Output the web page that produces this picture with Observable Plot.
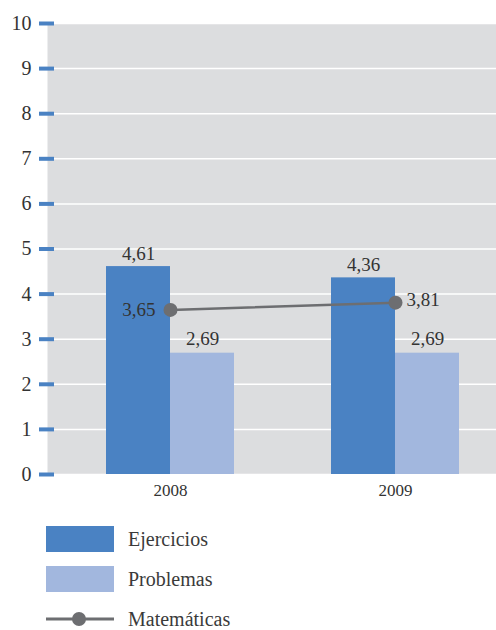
<!DOCTYPE html>
<html><head><meta charset="utf-8">
<script src="https://cdn.jsdelivr.net/npm/d3@7"></script>
<script src="https://cdn.jsdelivr.net/npm/@observablehq/plot@0.6"></script>
<style>
body{margin:0;background:#fff;font-family:"Liberation Serif",serif;overflow:hidden}
#chart svg, #chart svg text{font-family:"Liberation Serif",serif !important}
#legend{margin-left:46px;margin-top:16px}
.item{display:flex;align-items:center;height:26px;margin-bottom:14px;font-size:20px;color:#3a3a3a}
.item span{line-height:16px}
.sw{width:68px;height:26px;margin-right:14px;flex:none}
.ln{width:68px;height:26px;margin-right:14px;flex:none}
</style></head><body><div id="chart"></div><div id="legend"></div>
<script>
const years = ["2008", "2009"];
const ejercicios = [4.61, 4.36];
const problemas = [2.69, 2.69];
const matematicas = [3.65, 3.81];
const yTicks = [0, 1, 2, 3, 4, 5, 6, 7, 8, 9, 10];
const seriesNames = ["Ejercicios", "Problemas", "Matemáticas"];
const colors = ["#4a82c3", "#a2b7de", "#6d6e71"];

const fmt = v => d3.format(".2f")(v).replace(".", ",");
const rows = years.map((y, i) => ({year: y, ej: ejercicios[i], pr: problemas[i], ma: matematicas[i]}));
const textColor = "#333";
const ff = "'Liberation Serif', serif";

const chart = Plot.plot({
  width: 496, height: 510,
  marginLeft: 47, marginRight: 0, marginTop: 23, marginBottom: 36,
  style: {fontFamily: ff, color: textColor, background: "#fff"},
  x: {domain: years, range: [47, 518], paddingInner: 0.431, paddingOuter: 0.262, label: null},
  y: {domain: [0, 10], label: null},
  marks: [
    Plot.frame({fill: "#dcdddf", stroke: null}),
    Plot.gridY(yTicks, {stroke: "#fff", strokeOpacity: 1, strokeWidth: 1.5}),
    Plot.barY(rows, {x: "year", y: "ej", fill: colors[0], insetRight: 64}),
    Plot.barY(rows, {x: "year", y: "pr", fill: colors[1], insetLeft: 64}),
    Plot.line(rows, {x: "year", y: "ma", stroke: colors[2], strokeWidth: 2.5}),
    Plot.dot(rows, {x: "year", y: "ma", r: 7, fill: colors[2]}),
    Plot.text(rows, {x: "year", y: "ej", text: d => fmt(d.ej), dx: -32, dy: -13, fontSize: 19, fontFamily: ff, fill: textColor}),
    Plot.text(rows, {x: "year", y: "pr", text: d => fmt(d.pr), dx: 32, dy: -14, fontSize: 19, fontFamily: ff, fill: textColor}),
    Plot.text(rows, {filter: (d, i) => i === 0, x: "year", y: "ma", text: d => fmt(d.ma), textAnchor: "end", dx: -15, dy: 0, fontSize: 19, fontFamily: ff, fill: textColor}),
    Plot.text(rows, {filter: (d, i) => i === rows.length - 1, x: "year", y: "ma", text: d => fmt(d.ma), textAnchor: "start", dx: 11, dy: -3, fontSize: 19, fontFamily: ff, fill: textColor}),
    Plot.axisY(yTicks, {tickSize: 15, dx: 7, stroke: colors[0], strokeWidth: 4, tickFormat: () => ""}),
    Plot.axisY(yTicks, {tickSize: 0, tickPadding: 16, fontSize: 20, fontFamily: ff, color: textColor}),
    Plot.axisX({tickSize: 0, tickPadding: 9, fontSize: 17, fontFamily: ff, color: textColor})
  ]
});
document.getElementById("chart").append(chart);

const legend = d3.select("#legend");
seriesNames.forEach((name, i) => {
  const item = legend.append("div").attr("class", "item");
  if (i < 2) {
    item.append("div").attr("class", "sw").style("background", colors[i]);
  } else {
    const svg = item.append("svg").attr("class", "ln").attr("width", 68).attr("height", 26);
    svg.append("line").attr("x1", 0).attr("x2", 68).attr("y1", 13).attr("y2", 13)
      .attr("stroke", colors[2]).attr("stroke-width", 3);
    svg.append("circle").attr("cx", 33).attr("cy", 13).attr("r", 7).attr("fill", colors[2]);
  }
  item.append("span").text(name);
});
</script>
</body></html>
